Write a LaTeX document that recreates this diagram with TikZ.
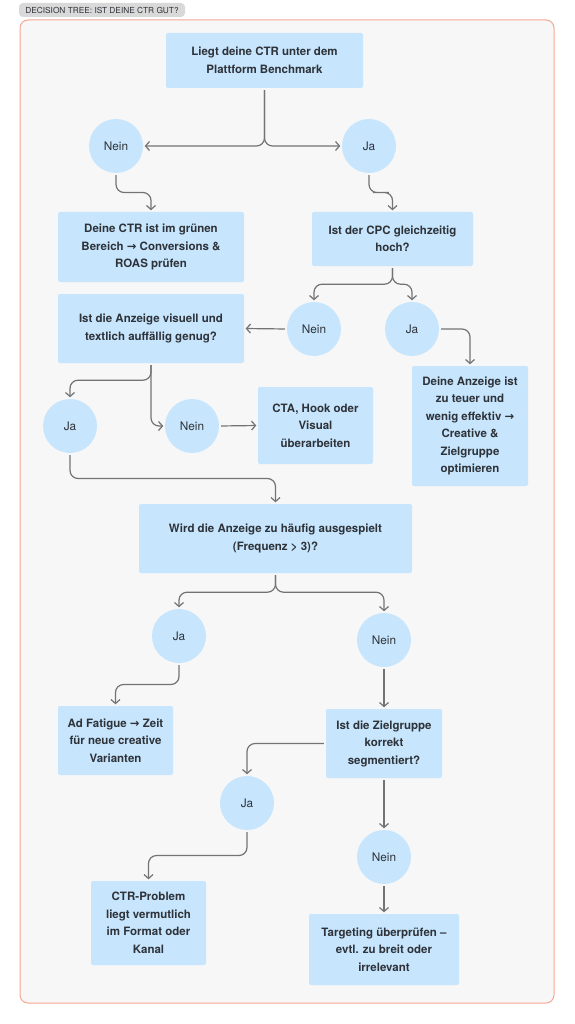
\documentclass[tikz,border=0pt]{standalone}
\usepackage{fontspec}
\setmainfont{TeX Gyre Heros}
\newfontfamily\arrowfont{DejaVu Sans}
\usetikzlibrary{calc,arrows.meta}
\definecolor{ink}{HTML}{2E3239}
\definecolor{boxfill}{HTML}{C7E6FD}
\definecolor{frame}{HTML}{F6A792}
\definecolor{paper}{HTML}{F7F7F7}
\definecolor{tabfill}{HTML}{D9D9D9}
\definecolor{wire}{HTML}{737373}
\newcommand{\ra}{{\arrowfont →}}
\tikzset{
  qbox/.style={fill=boxfill, rounded corners=2pt, inner sep=0pt, align=center, text=ink,
    font=\fontsize{11.5}{17.5}\selectfont\bfseries},
  ans/.style={circle, fill=boxfill, minimum size=54pt, inner sep=0pt, text=ink,
    font=\fontsize{11.8}{13}\selectfont},
  arr/.style={draw=wire, line width=1.2pt, rounded corners=8pt, shorten >=1.5pt, shorten <=2pt,
    -{Straight Barb[length=4pt,width=9pt]}},
  tablbl/.style={fill=tabfill, rounded corners=4pt, text=ink, font=\fontsize{8.3}{9}\selectfont}
}

\begin{document}
\begin{tikzpicture}[x=1pt,y=-1pt]
  \useasboundingbox[fill=white] (0,0) rectangle (574,1024);
  \draw[frame, fill=paper, line width=1pt, rounded corners=8pt] (20,20) rectangle (554,1003);
  \node[tablbl, minimum width=166pt, minimum height=14pt, inner sep=0pt] (title) at (102,10) {DECISION TREE: IST DEINE CTR GUT?};

  % questions and results
  \node[qbox, minimum width=197pt, minimum height=55pt] (q1) at (264.5,60.5) {Liegt deine CTR unter dem\\Plattform Benchmark};
  \node[qbox, minimum width=186pt, minimum height=70pt] (r1) at (151,247) {Deine CTR ist im grünen\\Bereich \ra{} Conversions \&\\ROAS prüfen};
  \node[qbox, minimum width=161pt, minimum height=54pt] (q2) at (392.5,239) {Ist der CPC gleichzeitig\\hoch?};
  \node[qbox, minimum width=186pt, minimum height=69pt] (q3) at (151,328.5) {Ist die Anzeige visuell und\\textlich auffällig genug?};
  \node[qbox, minimum width=116pt, minimum height=120pt] (r2) at (470,426) {Deine Anzeige ist\\zu teuer und\\wenig effektiv \ra\\Creative \&\\Zielgruppe\\optimieren};
  \node[qbox, minimum width=115pt, minimum height=77pt] (r3) at (315.5,425.5) {CTA, Hook oder\\Visual\\überarbeiten};
  \node[qbox, minimum width=273pt, minimum height=69pt] (q4) at (275.5,538.5) {Wird die Anzeige zu häufig ausgespielt\\(Frequenz > 3)?};
  \node[qbox, minimum width=115pt, minimum height=69pt] (r4) at (115.5,740.5) {Ad Fatigue \ra{} Zeit\\für neue creative\\Varianten};
  \node[qbox, minimum width=116pt, minimum height=69pt] (q5) at (384,743.5) {Ist die Zielgruppe\\korrekt\\segmentiert?};
  \node[qbox, minimum width=115pt, minimum height=84pt] (r5) at (148.5,923) {CTR-Problem\\liegt vermutlich\\im Format oder\\Kanal};
  \node[qbox, minimum width=150pt, minimum height=71pt] (r6) at (384,949.5) {Targeting überprüfen –\\evtl. zu breit oder\\irrelevant};

  % answers
  \node[ans] (n1) at (116,146) {Nein};
  \node[ans] (j1) at (369,146) {Ja};
  \node[ans] (n2) at (314,329) {Nein};
  \node[ans] (j2) at (412,329) {Ja};
  \node[ans] (j3) at (70,426) {Ja};
  \node[ans] (n3) at (192,426) {Nein};
  \node[ans] (j4) at (179,636) {Ja};
  \node[ans] (n4) at (384,640) {Nein};
  \node[ans] (j5) at (247,803) {Ja};
  \node[ans] (n5) at (384,857) {Nein};

  % connectors
  \draw[arr] (q1.south) |- (n1.east);
  \draw[arr] (q1.south) |- (j1.west);
  \draw[arr] (n1.south) |- ($(n1.south)!.5!(r1.north)$) -| (r1.north);
  \draw[arr] (j1.south) |- ($(j1.south)!.5!(q2.north)$) -| (q2.north);
  \draw[arr] (q2.south) -- ++(0,18) -| (n2.north);
  \draw[arr] (q2.south) -- ++(0,18) -| (j2.north);
  \draw[arr] (n2.west) -- (q3.east);
  \draw[arr] (j2.east) -| (r2.north);
  \draw[arr] (q3.south) -- ++(0,17) -| (j3.north);
  \draw[arr] (q3.south) |- (n3.west);
  \draw[arr] (n3.east) -- (r3.west);
  \draw[arr] (j3.south) |- ($(j3.south)!.5!(q4.north)$) -| (q4.north);
  \draw[arr] (q4.south) -- ++(0,19) -| (j4.north);
  \draw[arr] (q4.south) -- ++(0,19) -| (n4.north);
  \draw[arr] (j4.south) |- ($(j4.south)!.5!(r4.north)$) -| (r4.north);
  \draw[arr] (n4.south) -- (q5.north);
  \draw[arr] (q5.west) -| (j5.north);
  \draw[arr] (q5.south) -- (n5.north);
  \draw[arr] (j5.south) |- ($(j5.south)!.5!(r5.north)$) -| (r5.north);
  \draw[arr] (n5.south) -- (r6.north);
\end{tikzpicture}
\end{document}
